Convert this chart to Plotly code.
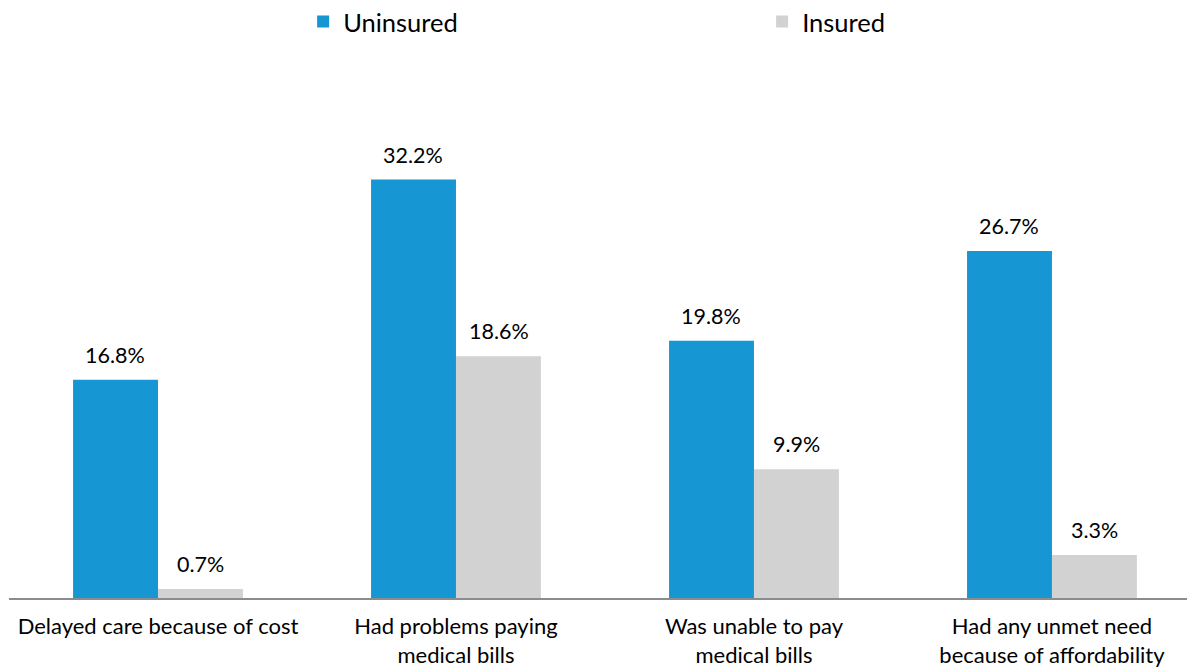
import plotly.graph_objects as go

categories = ["Delayed care because of cost", "Had problems paying<br>medical bills",
              "Was unable to pay<br>medical bills", "Had any unmet need<br>because of affordability"]
uninsured = [16.8, 32.2, 19.8, 26.7]
insured = [0.7, 18.6, 9.9, 3.3]

blue = "#1696D2"
gray = "#D2D2D2"

fig = go.Figure()
fig.add_trace(go.Bar(x=categories, y=uninsured, name="Uninsured", marker_color=blue,
                     marker_line_width=0))
fig.add_trace(go.Bar(x=categories, y=insured, name="Insured", marker_color=gray,
                     marker_line_width=0))

for i, c in enumerate(categories):
    for val, off in ((uninsured[i], -0.143), (insured[i], 0.143)):
        fig.add_annotation(x=i + off, y=val, text=f"{val:.1f}%", showarrow=False,
                           yanchor="bottom", yshift=10, xref="x", yref="y",
                           font=dict(family="Lato", size=21.5, color="#000"))

fig.update_layout(
    width=1195, height=669,
    margin=dict(l=1, r=8, t=52, b=79, autoexpand=False),
    paper_bgcolor="white", plot_bgcolor="white",
    barmode="group", bargap=0.43, bargroupgap=0,
    font=dict(family="Lato", size=22, color="#000"),
    legend=dict(orientation="h", x=0.248, xanchor="left", y=1.0706, yanchor="middle",
                yref="paper", entrywidth=414, entrywidthmode="pixels",
                font=dict(size=25.5, color="#000"), itemwidth=30, traceorder="normal"),
    showlegend=True,
)
fig.update_xaxes(type="category", range=[-0.5, 3.48], showline=True, linecolor="#8c8c8c",
                 linewidth=2, ticks="", showgrid=False, tickfont=dict(size=22, color="#000"),
                 ticklabelstandoff=8, fixedrange=True, automargin=False)
fig.update_yaxes(range=[0, 41.4], showgrid=False, showticklabels=False, zeroline=False,
                 showline=False, fixedrange=True, automargin=False)

fig.write_html("out.html")
